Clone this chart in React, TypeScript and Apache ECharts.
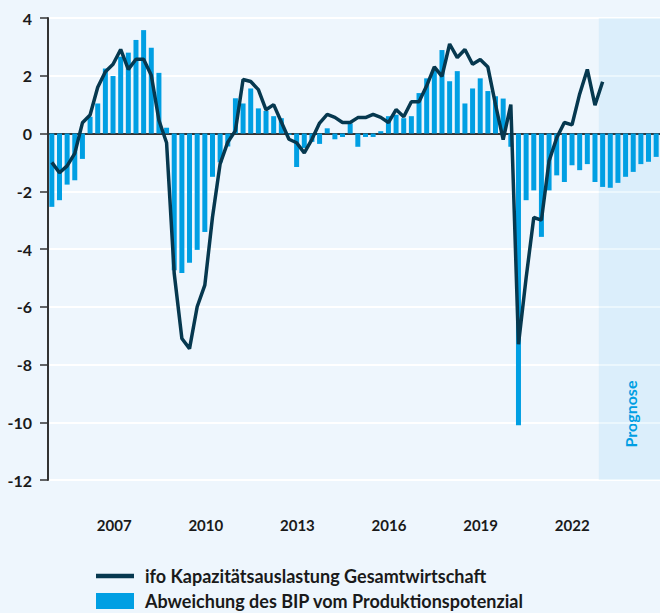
import React, { useEffect, useRef } from "react";
import * as echarts from "echarts";

const years: number[] = [];
for (let y = 2005; y <= 2024; y++) years.push(y);
const quarters = ["Q1", "Q2", "Q3", "Q4"];
const categories: string[] = [];
years.forEach((y) => quarters.forEach((q) => categories.push(`${y} ${q}`)));

const yTicks = [-12, -10, -8, -6, -4, -2, 0, 2, 4];
const shownYearLabels = ["2007", "2010", "2013", "2016", "2019", "2022"];
const forecastStart = "2023 Q1";
const forecastEnd = "2024 Q4";

const lineName = "ifo Kapazitätsauslastung Gesamtwirtschaft";
const barName = "Abweichung des BIP vom Produktionspotenzial";

// Output gap (bars), 2005 Q1 – 2024 Q4
const outputGap = [
  -2.54, -2.31, -1.77, -1.62, -0.88, 0.58, 1.04, 2.25, 1.99, 2.66, 2.8, 3.24, 3.58, 2.97, 2.1, 0.2,
  -4.74, -4.83, -4.48, -4.03, -3.41, -1.5, -1.0, -0.45, 1.22, 1.04, 1.56, 0.87, 0.78, 0.6, 0.53, -0.05,
  -1.16, -0.5, -0.29, -0.36, 0.18, -0.2, -0.12, 0.35, -0.46, -0.12, -0.12, 0.08, 0.6, 0.65, 0.53, 0.6,
  1.4, 1.91, 2.22, 2.89, 1.81, 2.16, 1.04, 1.56, 1.91, 1.47, 1.29, 1.21, -0.46, -10.1, -2.31, -1.97,
  -3.58, -1.97, -1.45, -1.68, -1.1, -1.27, -1.06, -1.68, -1.85, -1.88, -1.71, -1.5, -1.33, -1.06, -0.98, -0.81,
];

// ifo capacity utilisation (line), 2005 Q1 – 2023 Q1
const capacity = [
  -1.0, -1.36, -1.12, -0.69, 0.37, 0.64, 1.6, 2.14, 2.4, 2.91, 2.22, 2.57, 2.57, 2.02, 0.46, -0.32,
  -4.85, -7.1, -7.45, -6.0, -5.25, -2.9, -1.05, -0.3, 0.1, 1.87, 1.8, 1.52, 0.82, 1.0, 0.4, -0.2,
  -0.32, -0.67, -0.2, 0.36, 0.66, 0.56, 0.38, 0.38, 0.55, 0.55, 0.66, 0.56, 0.38, 0.83, 0.58, 1.1,
  1.1, 1.65, 2.31, 1.98, 3.1, 2.63, 2.91, 2.4, 2.56, 2.3, 1.0, -0.21, 1.0, -7.3, -5.0, -2.91,
  -3.0, -0.95, -0.15, 0.38, 0.3, 1.37, 2.22, 0.98, 1.79,
];

const FONT = "Lato";
const BG = "#EEF6FD";
const BLUE = "#009FE3";
const NAVY = "#06384F";
const AXIS = "#333333";

const legendText = {
  fontFamily: FONT,
  fontWeight: "bold",
  fontSize: 18,
  color: "#1a1a1a",
  padding: [0, 0, 0, 6],
};

export default function App() {
  const ref = useRef<HTMLDivElement>(null);
  useEffect(() => {
    if (!ref.current) return;
    const chart = echarts.init(ref.current, null, { renderer: "svg" });
    chart.setOption({
      animation: false,
      backgroundColor: BG,
      grid: [
        { left: 48, width: 612, top: 18, height: 462 },
        { left: 49.3, width: 623, top: 18, height: 462 },
      ],
      legend: [
        {
          left: 96,
          top: 567,
          padding: 0,
          itemWidth: 38,
          itemHeight: 4.5,
          textStyle: legendText,
          data: [{ name: lineName, icon: "rect", itemStyle: { color: NAVY } }],
        },
        {
          left: 96,
          top: 592,
          padding: 0,
          itemWidth: 38,
          itemHeight: 16,
          textStyle: legendText,
          data: [{ name: barName, icon: "rect" }],
        },
      ],
      xAxis: [
        {
          type: "category",
          gridIndex: 0,
          data: categories,
          axisLine: { onZero: true, lineStyle: { color: AXIS, width: 2 } },
          axisTick: { interval: 3, length: 5, lineStyle: { color: AXIS, width: 1.5 } },
          axisLabel: { show: false },
          splitLine: { show: false },
        },
        {
          type: "category",
          gridIndex: 1,
          data: categories,
          axisLine: { show: false },
          axisTick: { show: false },
          splitLine: { show: false },
          axisLabel: {
            interval: (i: number, v: string) => shownYearLabels.includes(v.slice(0, 4)) && v.endsWith("Q1"),
            formatter: (v: string) => v.slice(0, 4),
            margin: 37,
            fontFamily: FONT,
            fontWeight: "bold",
            fontSize: 15,
            color: "#1a1a1a",
          },
        },
      ],
      yAxis: [
        {
          type: "value",
          gridIndex: 0,
          min: yTicks[0],
          max: yTicks[yTicks.length - 1],
          interval: 2,
          axisLine: { show: true, lineStyle: { color: AXIS, width: 2 } },
          axisTick: { show: true, length: 8, lineStyle: { color: AXIS, width: 1.5 } },
          axisLabel: {
            margin: 16,
            fontFamily: FONT,
            fontWeight: "bold",
            fontSize: 16,
            color: "#1a1a1a",
          },
          splitLine: { show: true, lineStyle: { color: "#ffffff", width: 2 } },
        },
        { type: "value", gridIndex: 1, min: -12, max: 4, show: false },
      ],
      series: [
        {
          name: barName,
          type: "bar",
          xAxisIndex: 0,
          yAxisIndex: 0,
          data: outputGap,
          barWidth: 5,
          itemStyle: { color: BLUE },
          markArea: {
            silent: true,
            itemStyle: { color: "rgba(0,159,227,0.08)" },
            data: [[{ xAxis: forecastStart }, { xAxis: forecastEnd }]],
          },
        },
        {
          name: lineName,
          type: "line",
          xAxisIndex: 0,
          yAxisIndex: 0,
          data: capacity,
          symbol: "none",
          lineStyle: { color: NAVY, width: 3.5 },
          itemStyle: { color: NAVY },
          z: 3,
        },
      ],
      graphic: [
        {
          type: "text",
          x: 630.5,
          y: 414,
          rotation: Math.PI / 2,
          style: {
            text: "Prognose",
            fontFamily: FONT,
            fontWeight: "bold",
            fontSize: 16,
            fill: BLUE,
            align: "center",
            verticalAlign: "middle",
          },
        },
      ],
    });
    return () => chart.dispose();
  }, []);
  return (
    <div
      ref={ref}
      style={{ position: "fixed", left: 0, top: 0, width: 660, height: 613 }}
    />
  );
}
